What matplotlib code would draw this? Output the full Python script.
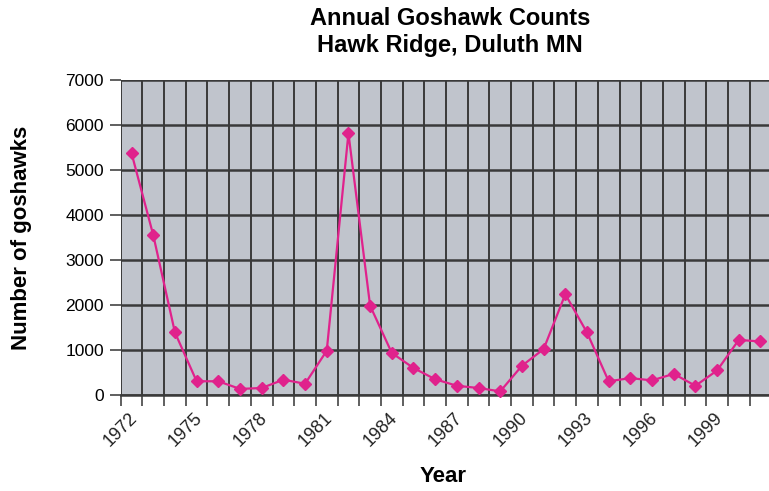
import numpy as np
import matplotlib.pyplot as plt

plt.rcParams['font.family'] = ['Liberation Sans', 'DejaVu Sans']

# Annual goshawk counts, Hawk Ridge
years = list(range(1972, 2002))
counts = [5370, 3550, 1385, 300, 300, 130, 150, 335, 245, 980,
          5815, 1980, 930, 595, 345, 200, 150, 75, 645, 1015,
          2235, 1385, 300, 370, 320, 465, 200, 540, 1220, 1185]
label_years = [1972, 1975, 1978, 1981, 1984, 1987, 1990, 1993, 1996, 1999]

fig = plt.figure(figsize=(7.69, 4.91), dpi=100)
ax = fig.add_axes([0.157, 0.196, 0.846, 0.641])
ax.set_facecolor('#c0c4cc')

x = np.arange(len(years))
ax.plot(x, counts, color='#e0228c', linewidth=1.6, marker='D', markersize=6.5,
        zorder=3, clip_on=False)

ax.set_xlim(-0.5, 29.1)
ax.set_ylim(0, 7000)
ax.set_yticks(range(0, 7001, 1000))
ax.tick_params(axis='y', labelsize=12.5, length=8, width=1.2, color='#444444', pad=4)

# gridlines at category boundaries
ax.set_xticks(np.arange(-0.5, 30, 1))
ax.set_xticklabels([])
ax.tick_params(axis='x', length=8, width=1.2, color='#444444')
ax.grid(True, axis='x', color='#3a3a3a', linewidth=1.4)
ax.grid(True, axis='y', color='#3a3a3a', linewidth=1.8)
ax.set_axisbelow(True)

for yr in label_years:
    i = years.index(yr)
    ax.text(i - 0.15, -330, str(yr), rotation=45, ha='right', va='top',
            rotation_mode='anchor', fontsize=13, color='#222222')

for s in ['top', 'right', 'left']:
    ax.spines[s].set_visible(False)
ax.spines['bottom'].set_color('#3a3a3a')
ax.spines['bottom'].set_linewidth(1.8)

fig.text(0.576, 0.008, 'Year', ha='center', va='bottom',
         fontsize=16, fontweight='bold')
fig.text(0.028, 0.516, 'Number of goshawks', ha='center', va='center',
         rotation=90, fontsize=16, fontweight='bold')
fig.text(0.585, 0.985, 'Annual Goshawk Counts', ha='center', va='top',
         fontsize=17, fontweight='bold')
fig.text(0.585, 0.93, 'Hawk Ridge, Duluth MN', ha='center', va='top',
         fontsize=17, fontweight='bold')

fig.savefig('out.png', dpi=100)
